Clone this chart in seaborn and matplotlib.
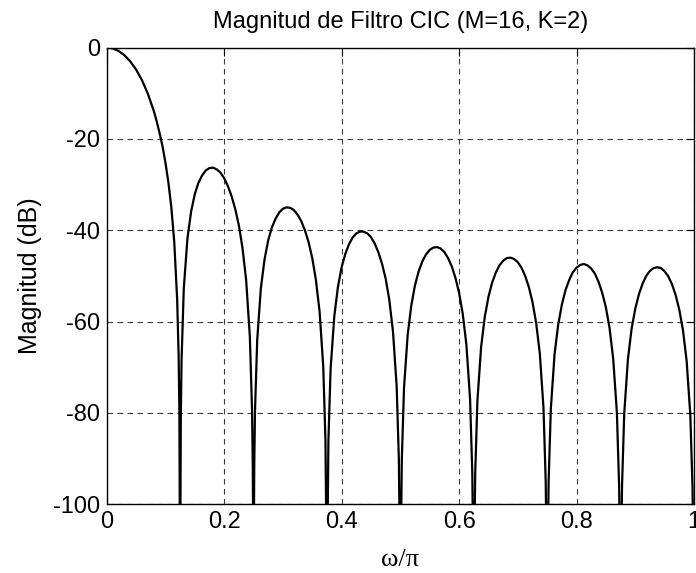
import numpy as np
import pandas as pd
import seaborn as sns
import matplotlib.pyplot as plt

# ------------ DATA ------------
# Normalised frequency (w/pi) and magnitude in dB, one list per lobe.
# Nulls drop below the axis floor, so they are given as -120 dB.
w_main = [0.0, 0.01, 0.02, 0.03, 0.04, 0.05, 0.06, 0.07, 0.08, 0.085, 0.09, 0.095, 0.1,
          0.105, 0.11, 0.115, 0.12, 0.1225, 0.12375, 0.125]
db_main = [0.0, -0.18, -0.74, -1.67, -3.02, -4.82, -7.14, -10.1, -13.8, -16.1, -18.7, -21.6, -25.2,
           -29.5, -34.9, -42.5, -55.2, -67.5, -79.7, -120]

w_lobe1 = [0.12625, 0.1275, 0.13125, 0.1375, 0.14375, 0.15, 0.15625, 0.1625, 0.16875,
           0.175, 0.18125, 0.1875, 0.19375, 0.2, 0.20625, 0.2125, 0.21875, 0.225,
           0.23125, 0.2375, 0.24375, 0.2475, 0.24875, 0.25]
db_lobe1 = [-80.0, -68.2, -52.8, -41.8, -35.9, -32.1, -29.6, -28.0, -26.9,
            -26.4, -26.3, -26.7, -27.4, -28.6, -30.3, -32.5, -35.3, -38.9,
            -43.9, -51.0, -63.3, -79.4, -91.5, -120]

w_lobe2 = [0.25125, 0.2525, 0.25625, 0.2625, 0.26875, 0.275, 0.28125, 0.2875, 0.29375,
           0.3, 0.30625, 0.3125, 0.31875, 0.325, 0.33125, 0.3375, 0.34375, 0.35,
           0.35625, 0.3625, 0.36875, 0.3725, 0.375]
db_lobe2 = [-91.7, -79.7, -64.1, -52.7, -46.4, -42.2, -39.4, -37.5, -36.1,
            -35.3, -35.0, -35.1, -35.6, -36.6, -38.0, -40.0, -42.6, -46.1,
            -50.9, -57.8, -69.9, -86.0, -120]

w_lobe3 = [0.3775, 0.38125, 0.3875, 0.39375, 0.4, 0.40625, 0.4125, 0.41875, 0.425,
           0.43125, 0.4375, 0.44375, 0.45, 0.45625, 0.4625, 0.46875, 0.475, 0.48125,
           0.4875, 0.49375, 0.4975, 0.5]
db_lobe3 = [-86.2, -70.4, -58.9, -52.4, -48.1, -45.2, -43.1, -41.6, -40.7,
            -40.3, -40.3, -40.7, -41.5, -42.9, -44.8, -47.3, -50.6, -55.3,
            -62.2, -74.2, -90.2, -120]

w_lobe4 = [0.5025, 0.50625, 0.5125, 0.51875, 0.525, 0.53125, 0.5375, 0.54375, 0.55,
           0.55625, 0.5625, 0.56875, 0.575, 0.58125, 0.5875, 0.59375, 0.6, 0.60625,
           0.6125, 0.61875, 0.6225, 0.625]
db_lobe4 = [-90.3, -74.5, -62.9, -56.4, -52.0, -49.0, -46.8, -45.3, -44.3,
            -43.8, -43.7, -44.0, -44.8, -46.1, -47.9, -50.4, -53.7, -58.3,
            -65.1, -77.0, -93.0, -120]

w_lobe5 = [0.6275, 0.63125, 0.6375, 0.64375, 0.65, 0.65625, 0.6625, 0.66875, 0.675,
           0.68125, 0.6875, 0.69375, 0.7, 0.70625, 0.7125, 0.71875, 0.725, 0.73125,
           0.7375, 0.74375, 0.7475, 0.75]
db_lobe5 = [-93.1, -77.3, -65.6, -59.0, -54.6, -51.5, -49.3, -47.7, -46.7,
            -46.1, -46.0, -46.3, -47.0, -48.2, -50.0, -52.4, -55.7, -60.3,
            -67.0, -78.9, -94.9, -120]

w_lobe6 = [0.7525, 0.75625, 0.7625, 0.76875, 0.775, 0.78125, 0.7875, 0.79375, 0.8,
           0.80625, 0.8125, 0.81875, 0.825, 0.83125, 0.8375, 0.84375, 0.85, 0.85625,
           0.8625, 0.86875, 0.8725, 0.875]
db_lobe6 = [-94.9, -79.1, -67.3, -60.7, -56.3, -53.1, -50.9, -49.2, -48.2,
            -47.6, -47.4, -47.7, -48.4, -49.5, -51.3, -53.7, -56.9, -61.4,
            -68.2, -80.0, -95.9, -120]

w_lobe7 = [0.8775, 0.88125, 0.8875, 0.89375, 0.9, 0.90625, 0.9125, 0.91875, 0.925,
           0.93125, 0.9375, 0.94375, 0.95, 0.95625, 0.9625, 0.96875, 0.975, 0.98125,
           0.9875, 0.99375, 0.9975, 1.0]
db_lobe7 = [-95.9, -80.1, -68.3, -61.6, -57.2, -54.0, -51.7, -50.0, -48.9,
            -48.3, -48.1, -48.3, -49.0, -50.1, -51.8, -54.2, -57.4, -61.9,
            -68.6, -80.4, -96.3, -120]

x_ticks = [0, 0.2, 0.4, 0.6, 0.8, 1]
x_tick_labels = ["0", "0.2", "0.4", "0.6", "0.8", "1"]
y_ticks = [0, -20, -40, -60, -80, -100]
# --------------------------------------------------------

df = pd.DataFrame({
    "w": w_main + w_lobe1 + w_lobe2 + w_lobe3 + w_lobe4 + w_lobe5 + w_lobe6 + w_lobe7,
    "db": db_main + db_lobe1 + db_lobe2 + db_lobe3 + db_lobe4 + db_lobe5 + db_lobe6 + db_lobe7,
})

sns.set_style("white")
plt.rcParams["font.family"] = ["Liberation Sans", "DejaVu Sans"]
plt.rcParams["axes.unicode_minus"] = False
plt.rcParams["text.color"] = "black"
plt.rcParams["axes.labelcolor"] = "black"

fig = plt.figure(figsize=(6.96, 5.73), dpi=100)
ax = fig.add_axes([0.1533, 0.1199, 0.8438, 0.7972])

ax.grid(True, color="#3a3a3a", linestyle=(0, (5, 4)), linewidth=0.8)
sns.lineplot(data=df, x="w", y="db", sort=False, estimator=None,
             color="black", linewidth=1.6, ax=ax)

ax.set_xlim(0, 1)
ax.set_ylim(-100, 0)
ax.set_xticks(x_ticks)
ax.set_xticklabels(x_tick_labels)
ax.set_yticks(y_ticks)
ax.tick_params(direction="in", length=6, width=0.8, colors="black",
               labelsize=17, top=True, right=True, pad=5)

for s in ax.spines.values():
    s.set_visible(True)
    s.set_color("black")
    s.set_linewidth(1.0)

ax.set_title("Magnitud de Filtro CIC (M=16, K=2)", fontsize=17, pad=14, color="black")
ax.set_ylabel("Magnitud (dB)", fontsize=18, labelpad=8)
ax.set_xlabel("ω/π", fontsize=19, family=["Liberation Serif", "DejaVu Serif"], labelpad=11)

fig.savefig("out.png", dpi=100)
